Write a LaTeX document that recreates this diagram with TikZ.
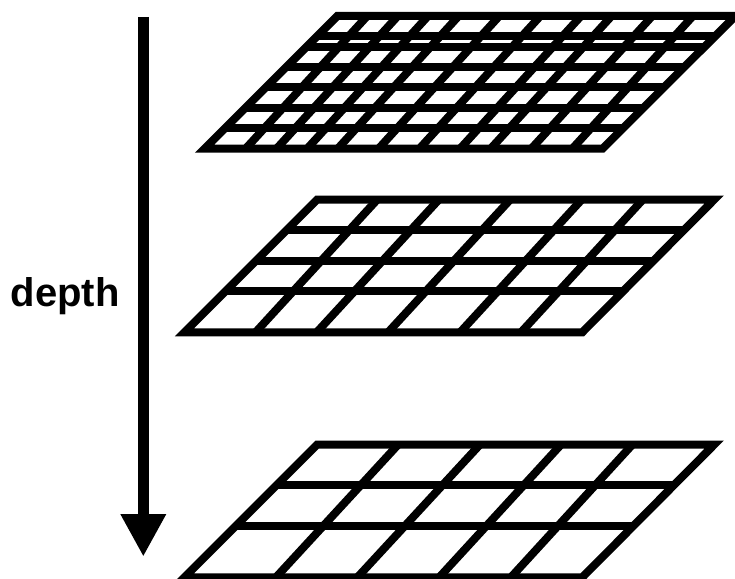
\documentclass[tikz,border=0pt]{standalone}
\usepackage{fontspec}
\setmainfont{Liberation Sans}
\usetikzlibrary{arrows.meta,calc}
\tikzset{
  gridline/.style={line width=8pt,line join=miter,miter limit=10,draw=black},
  depthlabel/.style={font=\fontsize{40}{44}\selectfont\bfseries,inner sep=0pt,anchor=base west},
  deptharrow/.style={line width=10.7pt,-{Triangle[width=42.7pt,length=42.7pt]}}
}
% #1 x offset, #2 y offset, #3 x scale, #4 BLx, #5 BRx, #6 TLx, #7 TRx, #8 ybottom, #9 ytop
\newcommand{\gridframe}[9]{%
  \coordinate (BL) at (#1+#4/#3,-#2-#8/3);
  \coordinate (BR) at (#1+#5/#3,-#2-#8/3);
  \coordinate (TL) at (#1+#6/#3,-#2-#9/3);
  \coordinate (TR) at (#1+#7/#3,-#2-#9/3);
  \draw[gridline] (BL) -- (BR) -- (TR) -- (TL) -- cycle;
}
\begin{document}
\begin{tikzpicture}[x=1pt,y=1pt]
\useasboundingbox (0,0) rectangle (735,-578);
\clip (0,0) rectangle (735,-578);
% top grid
\gridframe{190}{0}{2.877}{42}{1187}{424}{1569}{446}{48}
\foreach \a/\b in {160/510,249/598,337/685,425/773,542.5/890,660/1008,777/1125,865/1213,982/1330,1100/1447}
  \draw[gridline] (190+\a/2.877,-446/3) -- (190+\b/2.877,-48/3);
\foreach \y in {108.5,140,201,262,323,384.5}
  \draw[gridline] ($(BL)!{(446-\y)/398}!(TL)$) -- ($(BR)!{(446-\y)/398}!(TR)$);
% middle grid
\gridframe{170}{185}{2.775}{40}{1144}{408}{1510}{442}{44}
\foreach \a/\b in {237.3/575,407/746,605/944,805/1142.5,974/1312}
  \draw[gridline] (170+\a/2.775,-185-442/3) -- (170+\b/2.775,-185-44/3);
\foreach \y in {136,228,319}
  \draw[gridline] ($(BL)!{(442-\y)/398}!(TL)$) -- ($(BR)!{(442-\y)/398}!(TR)$);
% bottom grid
\gridframe{170}{430}{2.775}{40}{1144}{408}{1510}{442}{44}
\foreach \a/\b in {294/633,520/860,747/1085,946/1283}
  \draw[gridline] (170+\a/2.775,-430-442/3) -- (170+\b/2.775,-430-44/3);
\foreach \y in {166,288}
  \draw[gridline] ($(BL)!{(442-\y)/398}!(TL)$) -- ($(BR)!{(442-\y)/398}!(TR)$);
% depth arrow
\coordinate (arrowtop) at (143.3,-17);
\coordinate (arrowtip) at (143.3,-556.7);
\draw[deptharrow] (arrowtop) -- (arrowtip);
\node[depthlabel] (depth) at (10.5,-306) {depth};
\end{tikzpicture}
\end{document}
